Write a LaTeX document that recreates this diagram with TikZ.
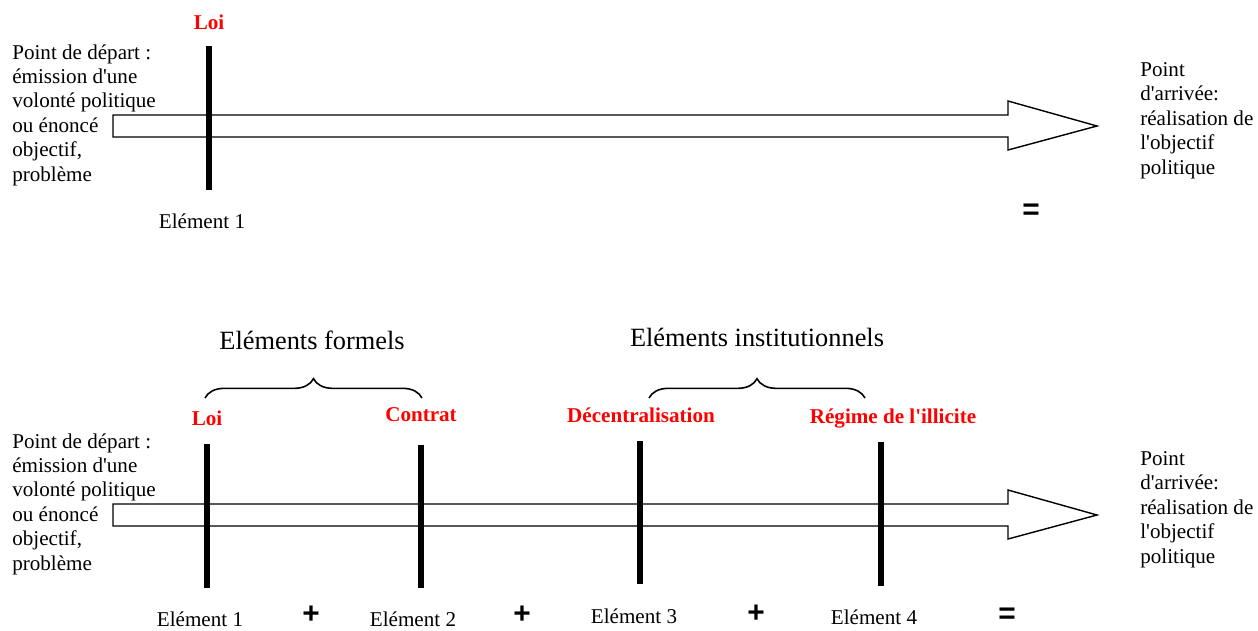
\documentclass[tikz,border=0pt]{standalone}
\usepackage{fontspec}
\setmainfont{Liberation Serif}[Ligatures=TeXReset]
\setsansfont{Liberation Sans}
\usetikzlibrary{decorations.pathreplacing}

\tikzset{
  bodytext/.style={inner sep=0pt, align=left, font=\fontsize{12}{13.9}\selectfont},
  eltext/.style={inner sep=0pt, font=\fontsize{12}{13.9}\selectfont},
  redlab/.style={inner sep=0pt, text=red, font=\fontsize{12}{14}\selectfont\bfseries},
  grouplab/.style={inner sep=0pt, font=\fontsize{15}{18}\selectfont},
  opsign/.style={inner sep=0pt, font=\fontsize{17}{19}\selectfont\sffamily\bfseries},
  elbar/.style={line width=3.4pt},
  bigarrow/.style={line width=0.8pt, fill=white},
  grpbrace/.style={decorate, decoration={brace, amplitude=11pt}, line width=0.9pt}
}

\begin{document}
\begin{tikzpicture}[x=0.02cm, y=-0.02cm]
\useasboundingbox (0,0) rectangle (1258,630);

% upper timeline : one element
\draw[bigarrow] (113,115) -- (1008,115) -- (1008,101) -- (1097,126)
  -- (1008,150) -- (1008,137) -- (113,137) -- cycle;
\node[bodytext, anchor=north west] (startA) at (12,44) {Point de départ :\\émission d'une\\volonté politique\\ou énoncé\\objectif,\\problème};
\node[bodytext, anchor=north west] (endA) at (1140,62) {Point\\d'arrivée:\\réalisation de\\l'objectif\\politique};

\coordinate (barAtop) at (209,46);
\coordinate (barAbot) at (209,190);
\draw[elbar] (barAtop) -- (barAbot);
\node[redlab] (loiA) at (209,22) {Loi};
\node[eltext] (elemA) at (202,221) {Elément 1};
\node[opsign] (eqA) at (1031,212) {=};

% lower timeline : four elements
\draw[bigarrow] (113,504) -- (1008,504) -- (1008,490) -- (1097,515)
  -- (1008,539) -- (1008,526) -- (113,526) -- cycle;
\node[bodytext, anchor=north west] (startB) at (12,433) {Point de départ :\\émission d'une\\volonté politique\\ou énoncé\\objectif,\\problème};
\node[bodytext, anchor=north west] (endB) at (1140,451) {Point\\d'arrivée:\\réalisation de\\l'objectif\\politique};

\coordinate (barBtop) at (207,444);
\coordinate (barBbot) at (207,588);
\coordinate (barCtop) at (421,445);
\coordinate (barCbot) at (421,588);
\coordinate (barDtop) at (640,441);
\coordinate (barDbot) at (640,584);
\coordinate (barEtop) at (881,442);
\coordinate (barEbot) at (881,586);
\draw[elbar] (barBtop) -- (barBbot);
\draw[elbar] (barCtop) -- (barCbot);
\draw[elbar] (barDtop) -- (barDbot);
\draw[elbar] (barEtop) -- (barEbot);

\node[redlab] (loiB) at (207,418) {Loi};
\node[redlab] (contrat) at (421,415) {Contrat};
\node[redlab] (decentr) at (641,415) {Décentralisation};
\node[redlab] (illicite) at (893,418) {Régime de l'illicite};

% braces over the two groups
\coordinate (formL) at (205,398);
\coordinate (formR) at (422,398);
\coordinate (instL) at (649,398);
\coordinate (instR) at (865,398);
\draw[grpbrace] (formL) -- (formR);
\draw[grpbrace] (instL) -- (instR);
\node[grouplab] (formels) at (312,340) {Eléments formels};
\node[grouplab] (instit) at (757,337) {Eléments institutionnels};

\node[eltext] (elemB) at (200,619) {Elément 1};
\node[opsign] (plusA) at (311,615) {+};
\node[eltext] (elemC) at (413,619) {Elément 2};
\node[opsign] (plusB) at (522,615) {+};
\node[eltext] (elemD) at (634,616) {Elément 3};
\node[opsign] (plusC) at (756,614) {+};
\node[eltext] (elemE) at (874,617) {Elément 4};
\node[opsign] (eqB) at (1007,616) {=};

\end{tikzpicture}
\end{document}
